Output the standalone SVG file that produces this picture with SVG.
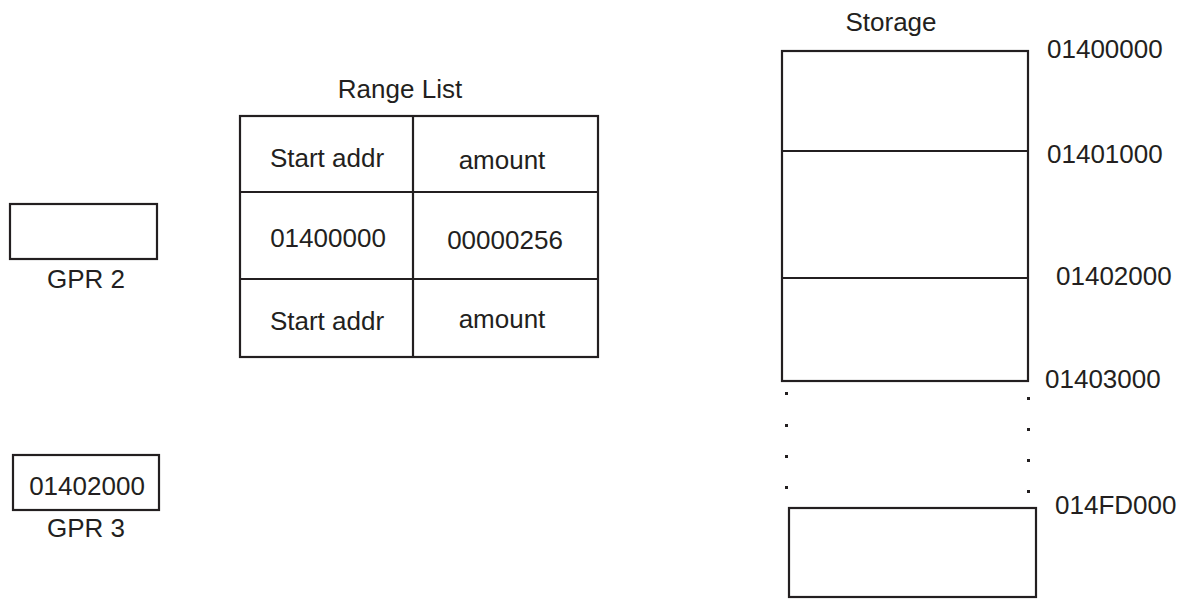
<svg xmlns="http://www.w3.org/2000/svg" width="1183" height="599" viewBox="0 0 1183 599">
<style>
.b{fill:none;stroke:#231f20;stroke-width:2.2}
.l{stroke:#231f20;stroke-width:2.2}
text{font-family:"Liberation Sans",Arial,sans-serif;font-size:26px;fill:#231f20;text-anchor:middle}
.s{text-anchor:start}
.d{fill:#231f20}
</style>
<rect width="1183" height="599" fill="#fff"/>
<g id="gpr2">
<rect class="b" x="10" y="204" width="147" height="55"/>
<text x="86" y="288">GPR 2</text>
</g>
<g id="gpr3">
<rect class="b" x="13" y="455" width="146" height="55"/>
<text x="87" y="495">01402000</text>
<text x="86" y="537">GPR 3</text>
</g>
<g id="range-list">
<text x="400" y="98">Range List</text>
<rect class="b" x="240" y="116" width="358" height="241"/>
<line class="l" x1="413" y1="116" x2="413" y2="357"/>
<line class="l" x1="240" y1="192" x2="598" y2="192"/>
<line class="l" x1="240" y1="279" x2="598" y2="279"/>
<text x="327" y="167">Start addr</text>
<text x="502" y="169">amount</text>
<text x="328" y="247">01400000</text>
<text x="505" y="249">00000256</text>
<text x="327" y="330">Start addr</text>
<text x="502" y="328">amount</text>
</g>
<g id="storage">
<text x="891" y="31">Storage</text>
<rect class="b" x="782" y="51" width="246" height="330"/>
<line class="l" x1="782" y1="151" x2="1028" y2="151"/>
<line class="l" x1="782" y1="278" x2="1028" y2="278"/>
<g class="d">
<rect x="785" y="392" width="3" height="3"/>
<rect x="785" y="424" width="3" height="3"/>
<rect x="785" y="455" width="3" height="3"/>
<rect x="785" y="486" width="3" height="3"/>
<rect x="1027" y="397" width="3" height="3"/>
<rect x="1027" y="428" width="3" height="3"/>
<rect x="1027" y="459" width="3" height="3"/>
<rect x="1027" y="490" width="3" height="3"/>
</g>
<rect class="b" x="789" y="508" width="247" height="89"/>
<text class="s" x="1047" y="58">01400000</text>
<text class="s" x="1047" y="163">01401000</text>
<text class="s" x="1056" y="285">01402000</text>
<text class="s" x="1045" y="388">01403000</text>
<text class="s" x="1055" y="514">014FD000</text>
</g>
</svg>
